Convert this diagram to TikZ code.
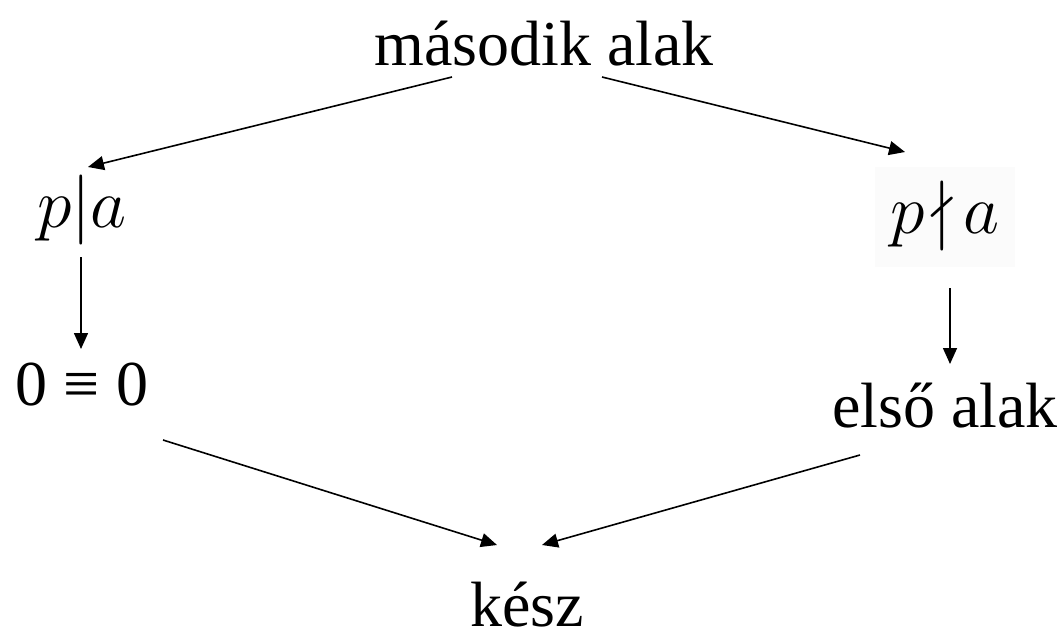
\RequirePackage{fix-cm}
\documentclass[tikz,border=0pt]{standalone}
\usepackage{amssymb}
\usepackage{fontspec}
\setmainfont{Liberation Serif}
\usetikzlibrary{arrows.meta}
\tikzset{
  lbl/.style={anchor=base, inner sep=0pt, font=\fontsize{64}{70}\selectfont},
  mth/.style={anchor=base, inner sep=0pt, font=\fontsize{70}{80}\selectfont},
  arr/.style={line width=1.6pt, -{Triangle[length=16pt,width=14pt]}}
}
\begin{document}
\begin{tikzpicture}[x=1pt,y=-1pt]
\useasboundingbox (0,0) rectangle (1064,634);
% faint background of the p∤a image
\fill[black!1.5] (875,167) rectangle (1015,267);
% nodes
\node[lbl] (top) at (544,65) {második alak};
\node[mth] (pa) at (82,227) {$p|a$};
\node[mth] (pna) at (945,233) {$p\mkern2mu{\nmid}\mkern3mu a$};
\node[lbl] (eq) at (82,405) {0 ≡ 0};
\node[lbl] (first) at (945,427) {első alak};
\node[lbl] (done) at (527,626) {kész};
% connector ends
\coordinate (t1) at (452,77);
\coordinate (p1) at (88,167);
\coordinate (t2) at (602,77);
\coordinate (p2) at (905,152);
\coordinate (pa1) at (81,257);
\coordinate (eq1) at (81,349);
\coordinate (pn1) at (950,288);
\coordinate (fi1) at (950,364);
\coordinate (eq2) at (163,440);
\coordinate (d1) at (497,545);
\coordinate (fi2) at (860,455);
\coordinate (d2) at (542,545);
% connectors
\draw[arr] (t1) -- (p1);
\draw[arr] (t2) -- (p2);
\draw[arr] (pa1) -- (eq1);
\draw[arr] (pn1) -- (fi1);
\draw[arr] (eq2) -- (d1);
\draw[arr] (fi2) -- (d2);
\end{tikzpicture}
\end{document}
